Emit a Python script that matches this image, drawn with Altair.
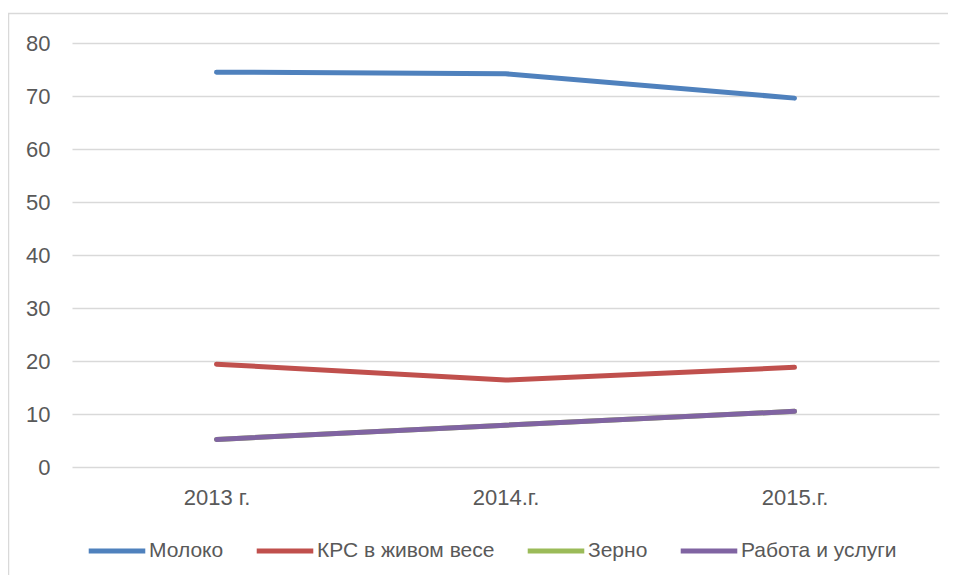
import altair as alt
import pandas as pd

years = ["2013 г.", "2014.г.", "2015.г."]
series_names = ["Молоко", "КРС в живом весе", "Зерно", "Работа и услуги"]
moloko = [74.5, 74.2, 69.6]
krs = [19.4, 16.4, 18.8]
zerno = [5.2, 7.9, 10.5]
rabota = [5.2, 7.9, 10.5]
colors = ["#4F81BD", "#C0504D", "#9BBB59", "#8064A2"]
y_ticks = [0, 10, 20, 30, 40, 50, 60, 70, 80]

rows = []
for name, vals in zip(series_names, [moloko, krs, zerno, rabota]):
    for yr, v in zip(years, vals):
        rows.append({"year": yr, "series": name, "value": v, "order": series_names.index(name)})
df = pd.DataFrame(rows)

FONT = "Liberation Sans"
TXT = "#595959"
FS = 22

border = alt.Chart(pd.DataFrame({"a": [0]})).mark_rect(
    filled=False, stroke="#d9d9d9", strokeWidth=1.5
).encode(
    x=alt.value(-63.5), x2=alt.value(1000), y=alt.value(-29.5), y2=alt.value(700)
)

lines = alt.Chart(df).mark_line(strokeWidth=5, strokeCap="round", strokeJoin="round").encode(
    x=alt.X("year:N", sort=years, scale=alt.Scale(type="point", padding=0.5),
            axis=alt.Axis(title=None, labelAngle=0, domain=False, ticks=False,
                          labelPadding=20, labelFontSize=FS, labelColor=TXT, labelFont=FONT,
                          grid=False)),
    y=alt.Y("value:Q", scale=alt.Scale(domain=[0, 80], nice=False),
            axis=alt.Axis(title=None, values=y_ticks, domain=False, ticks=False,
                          labelPadding=22, labelFontSize=FS, labelColor=TXT, labelFont=FONT,
                          grid=True, gridColor="#d9d9d9", gridWidth=1.3)),
    color=alt.Color("series:N", sort=series_names,
                    scale=alt.Scale(domain=series_names, range=colors),
                    legend=alt.Legend(title=None, orient="none", legendX=14, legendY=477,
                                      direction="horizontal", symbolType="stroke",
                                      symbolSize=3200, symbolStrokeWidth=5,
                                      labelFontSize=21, labelColor=TXT, labelFont=FONT,
                                      labelLimit=500, labelOffset=1, columnPadding=22,
                                      columns=4)),
    order=alt.Order("order:Q"),
    detail="series:N",
)

chart = alt.layer(border, lines).properties(
    width=867, height=424,
    autosize=alt.AutoSizeParams(type="none"),
    padding={"left": 64, "top": 35, "right": 9, "bottom": 108},
    background="white",
).configure_view(stroke=None)

chart.save("out.html", embed_options={"renderer": "svg", "actions": False})
